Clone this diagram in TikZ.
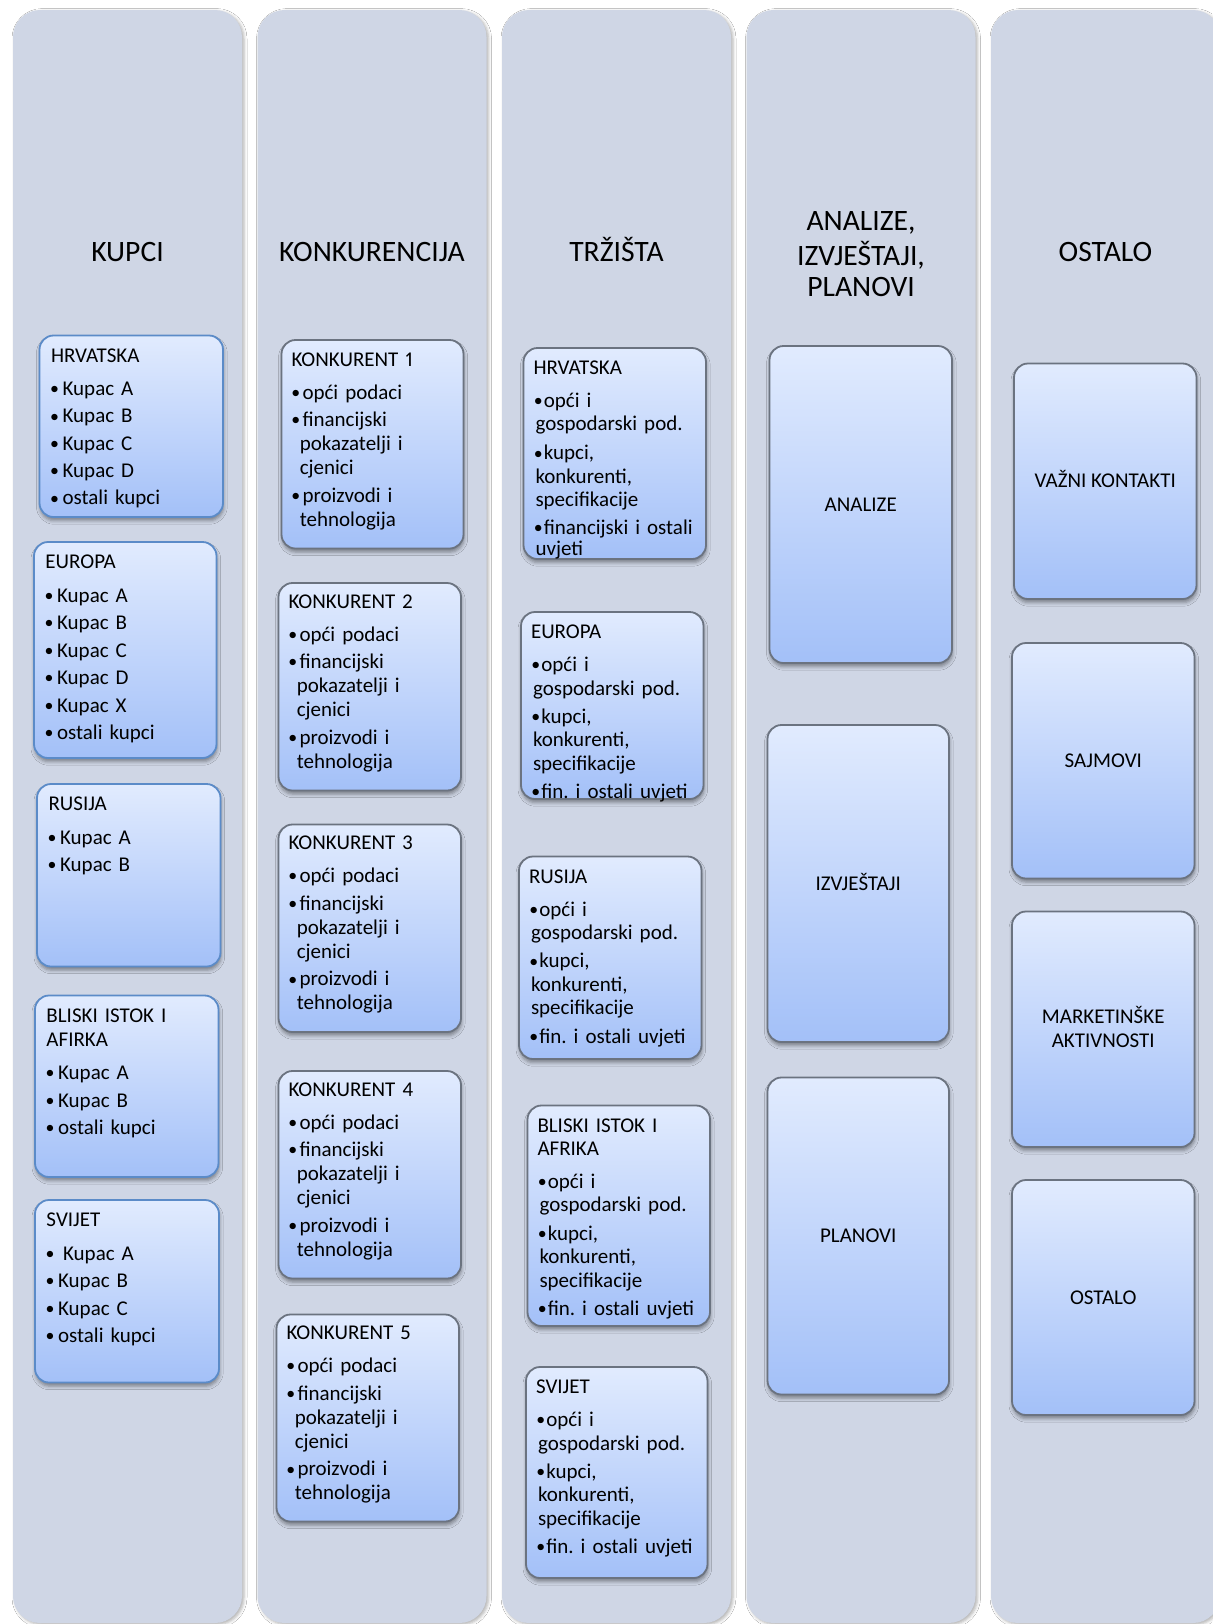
\documentclass[tikz,border=0pt]{standalone}
\usepackage{fontspec}
\usepackage{graphicx}
\setmainfont{Carlito}[Numbers=Proportional]
\usetikzlibrary{shadows.blur}
\definecolor{colbg}{HTML}{CFD6E5}
\definecolor{boxtop}{HTML}{E1EBFE}
\definecolor{boxbot}{HTML}{A3C0F8}
\definecolor{bdblue}{HTML}{5B8BC8}
\definecolor{bdgray}{HTML}{6B7380}
\frenchspacing
\lineskiplimit=-20pt
% bullets per column
\newcommand\bul{\raisebox{0.37pt}{\scalebox{0.85}{•}}}
\newcommand\bua{\hspace*{-0.4pt}\makebox[6.2pt][l]{\bul}}
\newcommand\bub{\hspace*{-0.05pt}\makebox[5.55pt][l]{\bul}}
\newcommand\buc{\hspace*{0.15pt}\makebox[5pt][l]{\bul}}
\newcommand\cnb{\hspace*{4.15pt}}
\newcommand\cnc{\hspace*{1pt}}
\newcommand\mybox[6]{\node[#2, minimum width={(#5-#3)*0.5pt}, minimum height={(#6-#4)*0.5pt}] (#1) at ({(#3+#5)/2},{(#4+#6)/2}) {};}
\begin{document}
\begin{tikzpicture}[x=0.5pt,y=-0.5pt,
  colbox/.style={fill=colbg, rounded corners=13.5pt, inner sep=0pt, outer sep=0pt,
    blur shadow={shadow xshift=1pt, shadow yshift=-0.8pt, shadow blur radius=1.5pt, shadow opacity=30}},
  bbase/.style={rounded corners=7pt, top color=boxtop, bottom color=boxbot, line width=0.9pt,
    inner sep=0pt, outer sep=0pt,
    blur shadow={shadow xshift=0.3pt, shadow yshift=-1.8pt, shadow blur radius=1.8pt, shadow opacity=40}},
  bblue/.style={bbase, draw=bdblue},
  bgray/.style={bbase, draw=bdgray},
  hdr/.style={anchor=base, inner sep=0pt, text width=112pt, align=center,
    font=\fontsize{14.8}{15.2}\selectfont},
  ta/.style={anchor=north west, inner sep=0pt, outer sep=0pt, text width=100pt, align=left,
    font=\fontsize{10.5}{12}\selectfont},
  tc/.style={anchor=north west, inner sep=0pt, outer sep=0pt, text width=100pt, align=left,
    font=\fontsize{10.5}{11.7}\selectfont},
  lab/.style={inner sep=0pt, align=center, font=\fontsize{10.5}{12}\selectfont}
]
\useasboundingbox[fill=white] (0,0) rectangle (1212,1624);

% column backgrounds
\mybox{c1}{colbox}{13}{10}{242}{1623}
\mybox{c2}{colbox}{257.5}{10}{486.5}{1623}
\mybox{c3}{colbox}{502}{10}{731}{1623}
\mybox{c4}{colbox}{746.5}{10}{975.5}{1623}
\mybox{c5}{colbox}{991}{10}{1220}{1623}

% headers
\node[hdr] (h1) at (127.5,261) {KUPCI};
\node[hdr] (h2) at (372,261) {KONKURENCIJA};
\node[hdr] (h3) at (616.5,261) {TRŽIŠTA};
\node[hdr, anchor=north] (h4) at (861,208.7) {\strut ANALIZE,\\IZVJEŠTAJI,\\PLANOVI};
\node[hdr] (h5) at (1105.5,261) {OSTALO};

% column 1: KUPCI
\mybox{b11}{bblue}{39.5}{335.5}{223}{517}
\mybox{b12}{bblue}{34}{542}{216.5}{758}
\mybox{b13}{bblue}{37}{784}{220.5}{966.5}
\mybox{b14}{bblue}{35}{995.5}{218.5}{1177}
\mybox{b15}{bblue}{35}{1200}{219}{1382.5}

\node[ta] (b11t) at ([shift={(11.5,10)}]b11.north west) {\strut HRVATSKA\\[4.65pt]\bua Kupac A\\[1.65pt]\bua Kupac B\\[1.65pt]\bua Kupac C\\[1.65pt]\bua Kupac D\\[1.65pt]\bua ostali kupci};
\node[ta] (b12t) at ([shift={(11.5,10)}]b12.north west) {\strut EUROPA\\[4.65pt]\bua Kupac A\\[1.75pt]\bua Kupac B\\[1.75pt]\bua Kupac C\\[1.75pt]\bua Kupac D\\[1.75pt]\bua Kupac X\\[1.75pt]\bua ostali kupci};
\node[ta] (b13t) at ([shift={(11.5,10)}]b13.north west) {\strut RUSIJA\\[4.65pt]\bua Kupac A\\[1.75pt]\bua Kupac B};
\node[ta] (b14t) at ([shift={(11.5,10)}]b14.north west) {\strut BLISKI ISTOK I\\AFIRKA\\[4.65pt]\bua Kupac A\\[1.75pt]\bua Kupac B\\[1.75pt]\bua ostali kupci};
\node[ta] (b15t) at ([shift={(11.5,10)}]b15.north west) {\strut SVIJET\\[4.65pt]\bua\hspace*{2.5pt}Kupac A\\[1.75pt]\bua Kupac B\\[1.75pt]\bua Kupac C\\[1.75pt]\bua ostali kupci};

% column 2: KONKURENCIJA
\mybox{b21}{bgray}{281.5}{340}{463.5}{548.5}
\mybox{b22}{bgray}{278.5}{583}{461}{790.5}
\mybox{b23}{bgray}{278.5}{824.5}{461}{1032}
\mybox{b24}{bgray}{278.5}{1071}{461}{1278.5}
\mybox{b25}{bgray}{276.5}{1314.5}{459}{1521.5}

\node[ta] (b21t) at ([shift={(10,9.5)}]b21.north west) {\strut KONKURENT 1\\[4.35pt]\bub opći podaci\\[1.85pt]\bub financijski\\\cnb pokazatelji i\\\cnb cjenici\\[1.85pt]\bub proizvodi i\\\cnb tehnologija};
\node[ta] (b22t) at ([shift={(10,8.5)}]b22.north west) {\strut KONKURENT 2\\[4.35pt]\bub opći podaci\\[1.85pt]\bub financijski\\\cnb pokazatelji i\\\cnb cjenici\\[1.85pt]\bub proizvodi i\\\cnb tehnologija};
\node[ta] (b23t) at ([shift={(10,8.5)}]b23.north west) {\strut KONKURENT 3\\[4.35pt]\bub opći podaci\\[1.85pt]\bub financijski\\\cnb pokazatelji i\\\cnb cjenici\\[1.85pt]\bub proizvodi i\\\cnb tehnologija};
\node[ta] (b24t) at ([shift={(10,8.5)}]b24.north west) {\strut KONKURENT 4\\[4.35pt]\bub opći podaci\\[1.85pt]\bub financijski\\\cnb pokazatelji i\\\cnb cjenici\\[1.85pt]\bub proizvodi i\\\cnb tehnologija};
\node[ta] (b25t) at ([shift={(10,8.5)}]b25.north west) {\strut KONKURENT 5\\[4.35pt]\bub opći podaci\\[1.85pt]\bub financijski\\\cnb pokazatelji i\\\cnb cjenici\\[1.85pt]\bub proizvodi i\\\cnb tehnologija};

% column 3: TRZISTA
\mybox{b31}{bgray}{523.5}{348}{706}{559}
\mybox{b32}{bgray}{521}{612}{703.5}{799}
\mybox{b33}{bgray}{519}{856.5}{701.5}{1059}
\mybox{b34}{bgray}{527.5}{1105.5}{710}{1326}
\mybox{b35}{bgray}{526}{1367}{707.5}{1578}

\node[tc] (b31t) at ([shift={(10,10.3)}]b31.north west) {\strut HRVATSKA\\[4.6pt]\buc opći i\\\cnc gospodarski pod.\\[2.9pt]\buc kupci,\\\cnc konkurenti,\\\cnc specifikacije\\[2.2pt]\buc financijski i ostali\\[-1.4pt]\cnc uvjeti};
\node[tc] (b32t) at ([shift={(10,10.3)}]b32.north west) {\strut EUROPA\\[4.8pt]\buc opći i\\\cnc gospodarski pod.\\[2.5pt]\buc kupci,\\\cnc konkurenti,\\\cnc specifikacije\\[2.5pt]\buc fin. i ostali uvjeti};
\node[tc] (b33t) at ([shift={(10,10.3)}]b33.north west) {\strut RUSIJA\\[4.8pt]\buc opći i\\\cnc gospodarski pod.\\[2.5pt]\buc kupci,\\\cnc konkurenti,\\\cnc specifikacije\\[2.5pt]\buc fin. i ostali uvjeti};
\node[tc] (b34t) at ([shift={(10,10.3)}]b34.north west) {\strut BLISKI ISTOK I\\AFRIKA\\[4.8pt]\buc opći i\\\cnc gospodarski pod.\\[2.5pt]\buc kupci,\\\cnc konkurenti,\\\cnc specifikacije\\[2.5pt]\buc fin. i ostali uvjeti};
\node[tc] (b35t) at ([shift={(10,10.3)}]b35.north west) {\strut SVIJET\\[4.8pt]\buc opći i\\\cnc gospodarski pod.\\[2.5pt]\buc kupci,\\\cnc konkurenti,\\\cnc specifikacije\\[2.5pt]\buc fin. i ostali uvjeti};

% column 4
\mybox{b41}{bgray}{769.5}{346}{952}{663}
\mybox{b42}{bgray}{767.5}{725}{949}{1042}
\mybox{b43}{bgray}{767.5}{1077.5}{949}{1394.5}
\node[lab] (b41t) at (b41.center) {ANALIZE};
\node[lab, text height=6.6pt, text depth=0pt] (b42t) at (b42.center) {IZVJEŠTAJI};
\node[lab] (b43t) at (b43.center) {PLANOVI};

% column 5
\mybox{b51}{bgray}{1014}{363.5}{1196.5}{599}
\mybox{b52}{bgray}{1012}{643}{1194.5}{878.5}
\mybox{b53}{bgray}{1012}{911.5}{1194.5}{1147}
\mybox{b54}{bgray}{1012}{1180}{1194.5}{1415}
\node[lab, text height=6.6pt, text depth=0pt] (b51t) at (b51.center) {VAŽNI KONTAKTI};
\node[lab] (b52t) at (b52.center) {SAJMOVI};
\node[lab, yshift=1pt] (b53t) at (b53.center) {MARKETINŠKE\\AKTIVNOSTI};
\node[lab] (b54t) at (b54.center) {OSTALO};
\end{tikzpicture}
\end{document}
